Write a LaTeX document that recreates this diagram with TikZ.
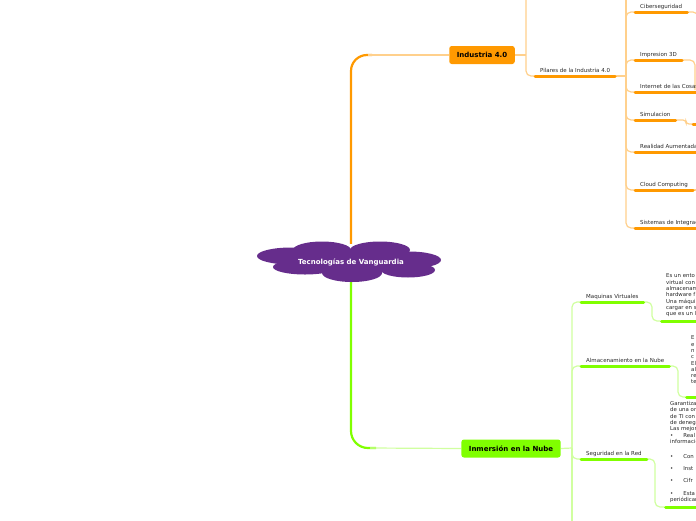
\documentclass[tikz,border=0pt]{standalone}
\usepackage{fontspec}
\setmainfont{DejaVu Sans}
\usepackage{tikz}
\usetikzlibrary{positioning,backgrounds}

\definecolor{vanguard}{RGB}{102,45,140}
\definecolor{indorange}{RGB}{255,153,0}
\definecolor{indlight}{RGB}{255,208,140}
\definecolor{nubegreen}{RGB}{128,255,0}
\definecolor{nubelight}{RGB}{208,255,160}
\definecolor{leafgray}{RGB}{40,40,40}

\begin{document}
\begin{tikzpicture}[x=1pt, y=-1pt,
      topic/.style={rounded corners=2.5pt, minimum height=18pt, inner xsep=7.5pt, font=\bfseries\fontsize{7}{8}\selectfont},
      rootcloud/.style={minimum width=180pt, minimum height=37pt, text=white, font=\bfseries\fontsize{7}{8}\selectfont},
      leaf/.style={anchor=south west, inner xsep=5pt, inner ysep=2.5pt, text height=4pt, text depth=1.2pt, text=leafgray, font=\fontsize{5.5}{6.4}\selectfont},
      leafnote/.style={anchor=south west, inner xsep=4.5pt, inner ysep=4pt, align=left, text width=48pt, text=leafgray, font=\fontsize{5.4}{6.3}\selectfont},
      trunkor/.style={draw=indorange, line width=2.2pt},
      trunkgr/.style={draw=nubegreen, line width=2.2pt},
      linkor/.style={draw=indlight, line width=1.2pt, rounded corners=5pt},
      linkgr/.style={draw=nubelight, line width=1.2pt, rounded corners=5pt},
      ulor/.style={draw=indorange, line width=3pt, line cap=round},
      ulgr/.style={draw=nubegreen, line width=3pt, line cap=round}]
      \useasboundingbox (0,0) rectangle (696,520);
      \clip (0,0) rectangle (696,520);

      % central cloud
      \fill[vanguard] (322,250) ellipse [x radius=29, y radius=8.5];
      \fill[vanguard] (380,250) ellipse [x radius=30, y radius=8.5];
      \fill[vanguard] (291,256) ellipse [x radius=34, y radius=8.5];
      \fill[vanguard] (409,260) ellipse [x radius=32, y radius=8.5];
      \fill[vanguard] (305,267) ellipse [x radius=32, y radius=7.5];
      \fill[vanguard] (352,273) ellipse [x radius=30, y radius=9];
      \fill[vanguard] (408,270) ellipse [x radius=27, y radius=7.5];
      \fill[vanguard] (350,261) ellipse [x radius=75, y radius=12];
      \node[rootcloud] (root) at (351,262.5) {Tecnologías de Vanguardia};

      \node[topic, fill=indorange] (ind)  at (482,55)    {Industria 4.0};
      \node[topic, fill=nubegreen] (nube) at (511,448.5) {Inmersión en la Nube};

      % Industria 4.0
      \node[leaf] (pil) at (535,76)  {Pilares de la Industria 4.0};
      \node[leaf] (cib) at (635,12)  {Ciberseguridad};
      \node[leaf] (imp) at (635,60)  {Impresion 3D};
      \node[leaf] (iot) at (635,92)  {Internet de las Cosas};
      \node[leaf] (sim) at (635,120) {Simulacion};
      \node[leaf] (ra)  at (635,152) {Realidad Aumentada};
      \node[leaf] (cc)  at (635,190) {Cloud Computing};
      \node[leaf] (si)  at (635,228) {Sistemas de Integración};

      % Inmersion en la Nube
      \node[leaf] (mv)  at (581,302) {Maquinas Virtuales};
      \node[leaf] (alm) at (581,366) {Almacenamiento en la Nube};
      \node[leaf] (seg) at (581,459) {Seguridad en la Red};
      \node[leafnote] (mvtxt) at (661.5,321)
            {Es un ento\\virtual con\\almacenam\\hardware f\\Una máqui\\cargar en s\\que es un l};
      \node[leafnote] (almtxt) at (686.5,397)
            {E\\e\\n\\c\\El\\al\\re\\te\\[2.6pt]\mbox{}};
      \node[leafnote] (segtxt) at (665.5,507)
            {Garantiza\\de una or\\de TI con\\de denega\\Las mejor\\\textbullet\hspace{10pt}Real\\informació\\[8.6pt]%
             \textbullet\hspace{10pt}Con\\[5.8pt]\textbullet\hspace{10pt}Inst\\[5.8pt]\textbullet\hspace{10pt}Cifr\\[6.6pt]%
             \textbullet\hspace{10pt}Esta\\periódicam};

      \coordinate (indup)   at (526,-10);
      \coordinate (pilup)   at (626,-10);
      \coordinate (cibnext) at (698,40);
      \coordinate (impnext) at (695,90);
      \coordinate (simnext) at (693,124);
      \coordinate (ccnext)  at (705,190);
      \coordinate (nubedown) at (572,530);

      \foreach \n in {pil,cib,imp,iot,sim,ra,cc,si} \draw[ulor] (\n.south west) -- (\n.south east);
      \foreach \n in {mv,alm,seg,mvtxt,almtxt,segtxt} \draw[ulgr] (\n.south west) -- (\n.south east);
      \draw[ulor] (simnext) -- ++(15,0);

      \begin{scope}[on background layer]
        \draw[trunkor, rounded corners=16pt] (root.north) |- (372,55);
        \draw[linkor] (368,55) -- (ind.west);
        \draw[linkor] (ind.east) -- (526,55);
        \draw[linkor] (indup) |- (pil.south west);
        \draw[linkor] (pil.south east) -- (626,76);
        \draw[linkor] (pilup) -- (626,76);
        \foreach \n in {cib,imp,iot,sim,ra,cc,si} \draw[linkor] (626,76) |- (\n.south west);
        \draw[linkor] (cib.south east) -| (cibnext);
        \draw[linkor] (imp.south east) -| (impnext);
        \draw[linkor, rounded corners=3pt] (sim.south east) -- (686,120) |- (simnext);
        \draw[linkor] (cc.south east) -- (ccnext);

        \draw[trunkgr, rounded corners=17pt] (root.south) |- (376,448);
        \draw[linkgr] (370,448) -- (nube.west);
        \draw[linkgr] (nube.east) -- (572,448);
        \foreach \n in {mv,alm,seg} \draw[linkgr] (572,448) |- (\n.south west);
        \draw[linkgr] (572,448) -- (nubedown);
        \draw[linkgr] (mv.south east) -- (652,302) |- (mvtxt.south west);
        \draw[linkgr] (alm.south east) -- (678,366) |- (almtxt.south west);
        \draw[linkgr] (seg.south east) -- (655,459) |- (segtxt.south west);
      \end{scope}
    \end{tikzpicture}
\end{document}
